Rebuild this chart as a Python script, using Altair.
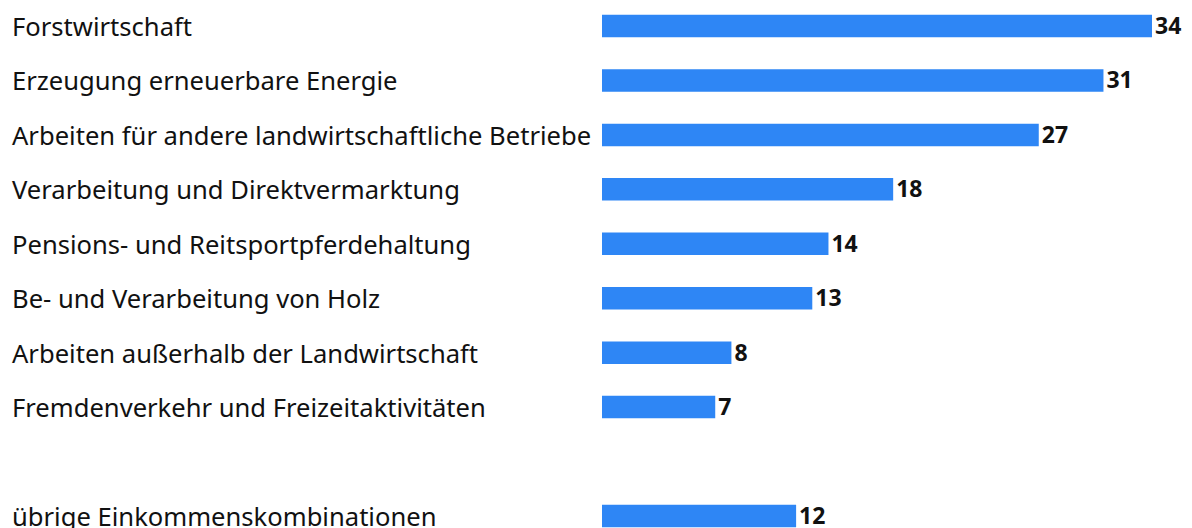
import altair as alt
import pandas as pd

categories = [
    "Forstwirtschaft",
    "Erzeugung erneuerbare Energie",
    "Arbeiten für andere landwirtschaftliche Betriebe",
    "Verarbeitung und Direktvermarktung",
    "Pensions- und Reitsportpferdehaltung",
    "Be- und Verarbeitung von Holz",
    "Arbeiten außerhalb der Landwirtschaft",
    "Fremdenverkehr und Freizeitaktivitäten",
    "übrige Einkommenskombinationen",
]
values = [34, 31, 27, 18, 14, 13, 8, 7, 12]

order = categories[:8] + [" "] + categories[8:]

df = pd.DataFrame({"cat": categories, "val": values})

FONT = "Noto Sans"
step = 54.44
bw = 22.5
n = len(order)
pi = 1 - bw / step
po = (18 - bw / 2) / step
H = step * (n - pi + 2 * po)

y = alt.Y("cat:N", sort=order, scale=alt.Scale(domain=order, paddingInner=pi, paddingOuter=po), axis=None)
x = alt.X("val:Q", scale=alt.Scale(domain=[0, 34], nice=False, zero=True), axis=None)

base = alt.Chart(df)
bars = base.mark_bar(color="#2e86f5", clip=False).encode(x=x, y=y)
vals = base.mark_text(align="left", baseline="middle", dx=3, dy=1, fontSize=23, fontWeight="bold",
                      font=FONT, color="#111111").encode(x=x, y=y, text="val:Q")
labels = base.mark_text(align="left", baseline="middle", dy=2, fontSize=25.6, font=FONT,
                        color="#111111").encode(x=alt.value(-590), y=y, text="cat:N")

chart = alt.layer(bars, vals, labels).properties(
    width=550, height=H,
    autosize=alt.AutoSizeParams(type="none"),
    padding={"left": 594, "top": 0, "right": 32, "bottom": 0},
).configure_view(stroke=None)

chart.save("out.html", embed_options={"renderer": "svg", "actions": False})
